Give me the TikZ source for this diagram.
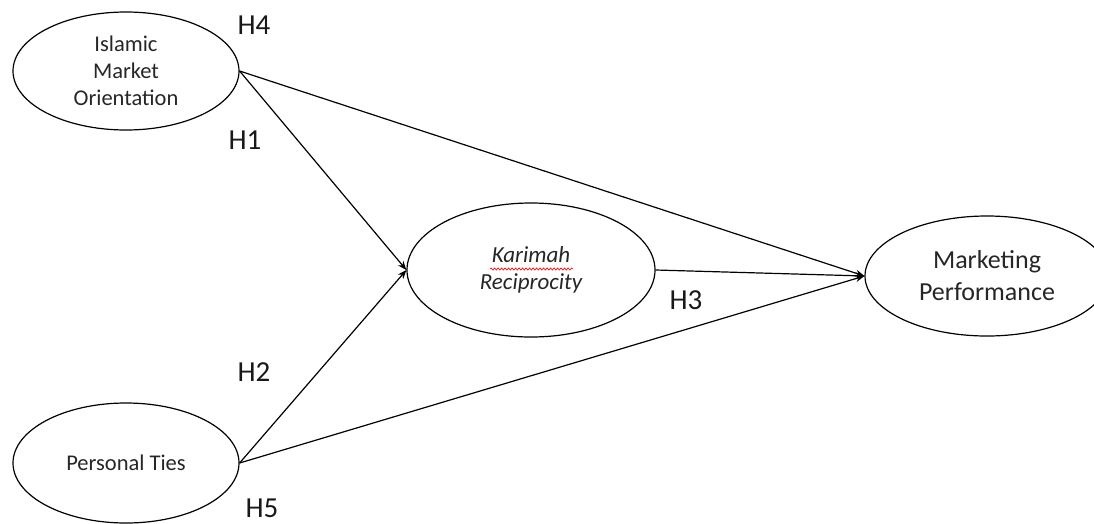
\documentclass[tikz,border=0pt]{standalone}
\usepackage{fontspec}
\setmainfont{Carlito}
\usetikzlibrary{shapes.geometric,arrows.meta,decorations.pathmorphing}
\begin{document}
\begin{tikzpicture}[x=1pt,y=-1pt,
  construct/.style={draw,ellipse,line width=1.2pt,inner sep=0pt,align=center,text=black!85},
  link/.style={line width=1.2pt,-{Stealth[length=9pt,width=7pt]}},
  hyp/.style={font=\fontsize{29}{32}\selectfont,text=black!90}]
\useasboundingbox (0,0) rectangle (1094,523);
\clip (0,0) rectangle (1094,523);
\node[construct,minimum width=226pt,minimum height=118pt,font=\fontsize{22.5}{27}\selectfont] (imo) at (126,71) {Islamic\\Market\\Orientation};
\node[construct,minimum width=248pt,minimum height=134pt,font=\fontsize{23}{27}\selectfont\itshape] (kr) at (531,270) {Karimah\\Reciprocity};
\node[construct,minimum width=244pt,minimum height=120pt,font=\fontsize{26}{32}\selectfont] (mp) at (987,276) {Marketing\\Performance};
\node[construct,minimum width=226pt,minimum height=120pt,font=\fontsize{22.5}{27}\selectfont] (pt) at (126,463) {Personal Ties};
\coordinate (wl) at (490,269);
\coordinate (wr) at (573,269);
\draw[red,line width=0.6pt,decorate,decoration={snake,amplitude=1.1pt,segment length=3.5pt}] (wl) -- (wr);
\draw[link] (imo.east) -- (mp.west);
\draw[link] (imo.east) -- (kr.west);
\draw[link] (kr.east) -- (mp.west);
\draw[link] (pt.east) -- (kr.west);
\draw[link] (pt.east) -- (mp.west);
\node[hyp] (h4) at (254,25) {H4};
\node[hyp] (h1) at (245,140) {H1};
\node[hyp] (h3) at (686,300) {H3};
\node[hyp] (h2) at (254,372) {H2};
\node[hyp] (h5) at (262,508) {H5};
\end{tikzpicture}
\end{document}
